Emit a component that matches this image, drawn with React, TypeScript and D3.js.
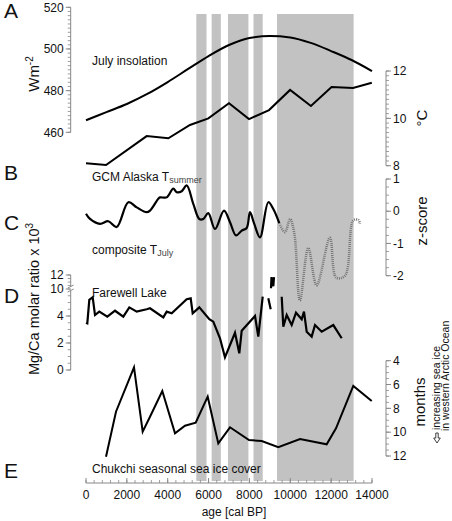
import React from 'react';
import * as d3 from 'd3';

// ---------- DATA ----------
const bandStart = [5400, 6150, 6950, 8200, 9350];
const bandEnd = [5900, 6600, 7950, 8650, 13100];

const insolAge = [0, 1000, 2000, 3000, 4000, 5000, 6000, 7000, 8000, 9000, 10000, 11000, 12000, 13000, 14000];
const insolVal = [465.8, 469.7, 473.6, 478.4, 484.1, 490.4, 496.6, 501.9, 505.3, 506.2, 505.5, 502.9, 499.0, 494.7, 489.4];

const gcmAge = [0, 980, 2970, 4030, 5090, 5990, 7000, 7980, 8960, 9990, 11010, 12020, 13070, 13990];
const gcmVal = [8.1, 8.03, 9.25, 9.16, 9.72, 10.0, 10.64, 9.97, 10.35, 11.2, 10.52, 11.32, 11.28, 11.5];

const compAge = [0, 196, 685, 1092, 1503, 2071, 2482, 2971, 3133, 3539, 3622, 3950, 4273, 4440, 4685, 4929, 5252, 5546, 5742, 5986, 6315, 6755, 7049, 7343, 7622, 7866, 8028, 8224, 8517, 8924, 9169, 9462];
const compVal = [-0.08, -0.24, -0.39, -0.31, -0.49, 0.28, 0.12, -0.03, 0.02, 0.39, 0.43, 0.43, 0.70, 0.59, 0.62, 0.80, 0.23, -0.24, -0.24, -0.06, -0.55, 0.02, -0.34, -0.75, -0.60, -0.52, -0.03, -0.37, -0.81, 0.28, 0.07, -0.37];

const compDotAge = [9462, 9740, 9990, 10200, 10470, 10880, 11290, 11940, 12250, 12680, 13080, 13330, 13410];
const compDotVal = [-0.37, -0.65, -0.24, -0.70, -2.77, -1.14, -2.3, -0.82, -2.06, -2.0, -0.29, -0.27, -0.39];

// null marks a gap in the record
const fareAge = [0, 64, 162, 328, 441, 651, 1043, 1420, 1826, 2120, 2482, 2971, 3133, 3784, 3950, 4195, 4929, 5125, 5223, 5546, 6036, 6231, 6559, 6803, 7293, 7504, 7622, 8273, 8434, 8650, 8780, 8924, 9041, 9048, 9056, 9080, 9169, 9203, 9400, 9580, 9658, 9824, 10069, 10280, 10559, 10671, 10803, 11048, 11210, 11538, 12105, 12517];
const fareVal: (number | null)[] = [3.5, 3.46, 5.19, 5.39, 4.07, 4.32, 3.95, 4.39, 3.95, 4.64, 4.32, 4.5, 4.57, 3.9, 4.32, 4.2, 5.24, 5.31, 4.2, 4.64, 3.76, 3.58, 2.35, 0.94, 2.76, 1.24, 2.91, 4.0, 2.47, 5.43, null, 5.31, 4.5, null, 10.1, 11.7, 10.4, 11.7, null, 5.43, 3.21, 4.07, 3.33, 4.24, 3.76, 4.32, 2.84, 2.47, 3.33, 2.84, 3.33, 2.35];

const iceAge = [979, 1468, 2350, 2775, 3133, 3735, 4357, 4846, 5370, 5957, 6476, 7049, 7979, 8601, 9413, 10475, 11782, 12238, 13084, 13985];
const iceVal = [12.06, 8.28, 4.55, 9.96, 8.7, 6.54, 10.1, 9.46, 9.21, 7.02, 10.94, 9.59, 10.66, 10.74, 11.27, 10.57, 11.02, 9.68, 6.12, 7.38];

const xTicks = [0, 2000, 4000, 6000, 8000, 10000, 12000, 14000];
const insolTicks = [460, 480, 500, 520];
const tempTicks = [8, 10, 12];
const zTicks = [-2, -1, 0, 1];
const mgTicksLow = [0, 2, 4];
const mgTicksHigh = [10, 12];
const iceTicks = [4, 6, 8, 10, 12];

// ---------- LAYOUT ----------
const W = 452, H = 521;
const FONT = 'Liberation Sans, Arial, Helvetica, sans-serif';
const AX = '#888';
const LX = 70.7, RX = 386;

const x = d3.scaleLinear().domain([0, 14000]).range([86, 372]);
const yIns = d3.scaleLinear().domain([460, 520]).range([132.3, 7.3]);
const yT = d3.scaleLinear().domain([8, 12]).range([165.7, 71]);
const yZ = d3.scaleLinear().domain([-2, 1]).range([275.7, 179]);
const yMgLow = d3.scaleLinear().domain([0, 6]).range([370, 289]);
const yMgHigh = d3.scaleLinear().domain([10, 12]).range([289, 275]);
const yMg = (v: number) => (v >= 10 ? yMgHigh(v) : yMgLow(v));
const yIce = d3.scaleLinear().domain([4, 12]).range([360.7, 456]);

const BAND_TOP = 14, BAND_BOT = 481;

function Axis({ side, scale, ticks, minor, y0, y1, fmt }: any) {
  const dir = side === 'left' ? -1 : 1;
  const xx = side === 'left' ? LX : RX;
  return (
    <g>
      <line x1={xx} x2={xx} y1={y0} y2={y1} stroke={AX} strokeWidth={1} />
      {minor.map((m: number, i: number) => (
        <line key={'m' + i} x1={xx} x2={xx + dir * 3} y1={scale(m)} y2={scale(m)} stroke={AX} strokeWidth={0.8} />
      ))}
      {ticks.map((t: number, i: number) => (
        <g key={'t' + i}>
          <line x1={xx} x2={xx + dir * 5} y1={scale(t)} y2={scale(t)} stroke={AX} strokeWidth={1} />
          <text x={xx + dir * 7} y={scale(t)} dy="0.35em" textAnchor={side === 'left' ? 'end' : 'start'} fontSize={12} fill="#111">
            {fmt ? fmt(t) : t}
          </text>
        </g>
      ))}
    </g>
  );
}

export default function App() {
  const insolPath = d3.line<number>().x((_, i) => x(insolAge[i])).y(v => yIns(v)).curve(d3.curveMonotoneX)(insolVal);
  const gcmPath = d3.line<number>().x((_, i) => x(gcmAge[i])).y(v => yT(v))(gcmVal);
  const compPath = d3.line<number>().x((_, i) => x(compAge[i])).y(v => yZ(v)).curve(d3.curveCatmullRom.alpha(0.5))(compVal);
  const compDotPath = d3.line<number>().x((_, i) => x(compDotAge[i])).y(v => yZ(v)).curve(d3.curveCatmullRom.alpha(0.5))(compDotVal);
  const farePath = d3.line<number | null>()
    .defined(v => v !== null)
    .x((_, i) => x(fareAge[i]))
    .y(v => yMg(v as number))(fareVal);
  const icePath = d3.line<number>().x((_, i) => x(iceAge[i])).y(v => yIce(v))(iceVal);

  const xMinor = d3.range(0, 14001, 400);

  return (
    <svg width={W} height={H} style={{ position: 'absolute', left: 0, top: 0, background: '#fff' }} fontFamily={FONT}>
      {/* grey bands */}
      {bandStart.map((b, i) => (
        <rect key={i} x={x(b)} y={BAND_TOP} width={x(bandEnd[i]) - x(b)} height={BAND_BOT - BAND_TOP} fill="#c2c2c2" />
      ))}

      {/* panel letters */}
      {[['A', 18], ['B', 180], ['C', 230], ['D', 303], ['E', 478]].map(([l, yy]) => (
        <text key={l as string} x={4} y={yy as number} fontSize={21} fill="#111">{l}</text>
      ))}

      {/* A: insolation axis (left) */}
      <Axis side="left" scale={yIns} ticks={insolTicks} minor={d3.range(460, 520.1, 2)} y0={yIns(460)} y1={yIns(520)} />
      <text transform={`translate(38.5,74) rotate(-90)`} textAnchor="middle" fontSize={15} fill="#111">
        Wm<tspan dy={-6} fontSize={10}>-2</tspan>
      </text>

      {/* B: temperature axis (right) */}
      <Axis side="right" scale={yT} ticks={tempTicks} minor={d3.range(8, 12.01, 0.2)} y0={yT(8)} y1={yT(12)} />
      <text transform={`translate(427,118) rotate(-90)`} textAnchor="middle" fontSize={15} fill="#111">°C</text>

      {/* C: z-score axis (right) */}
      <Axis side="right" scale={yZ} ticks={zTicks} minor={d3.range(-2, 1.01, 0.25)} y0={yZ(-2)} y1={yZ(1)} />
      <text transform={`translate(427,221) rotate(-90)`} textAnchor="middle" fontSize={15} fill="#111">z-score</text>

      {/* D: Mg/Ca axis (left, broken) */}
      <g>
        <line x1={LX} x2={LX} y1={yMgLow(0)} y2={291} stroke={AX} />
        <line x1={LX} x2={LX} y1={287} y2={yMgHigh(12)} stroke={AX} />
        <path d={`M${LX - 3},${292} L${LX + 3},${289} M${LX - 3},${288} L${LX + 3},${285}`} stroke={AX} fill="none" />
        {d3.range(0, 6.01, 0.5).map((m, i) => (
          <line key={'ml' + i} x1={LX} x2={LX - 3} y1={yMgLow(m)} y2={yMgLow(m)} stroke={AX} strokeWidth={0.8} />
        ))}
        {d3.range(10.5, 12.01, 0.5).map((m, i) => (
          <line key={'mh' + i} x1={LX} x2={LX - 3} y1={yMgHigh(m)} y2={yMgHigh(m)} stroke={AX} strokeWidth={0.8} />
        ))}
        {mgTicksLow.map(t => (
          <g key={'lt' + t}>
            <line x1={LX} x2={LX - 5} y1={yMgLow(t)} y2={yMgLow(t)} stroke={AX} />
            <text x={LX - 7} y={yMgLow(t)} dy="0.35em" textAnchor="end" fontSize={12} fill="#111">{t}</text>
          </g>
        ))}
        {mgTicksHigh.map(t => (
          <g key={'ht' + t}>
            <line x1={LX} x2={LX - 5} y1={yMgHigh(t)} y2={yMgHigh(t)} stroke={AX} />
            <text x={LX - 7} y={yMgHigh(t)} dy="0.35em" textAnchor="end" fontSize={12} fill="#111">{t}</text>
          </g>
        ))}
      </g>
      <text transform={`translate(38.5,299) rotate(-90)`} textAnchor="middle" fontSize={14.5} fill="#111">
        Mg/Ca molar ratio x 10<tspan dy={-6} fontSize={10}>3</tspan>
      </text>

      {/* E: months axis (right) */}
      <Axis side="right" scale={yIce} ticks={iceTicks} minor={d3.range(4, 12.01, 0.5)} y0={yIce(4)} y1={yIce(12)} />
      <text transform={`translate(425,402) rotate(-90)`} textAnchor="middle" fontSize={15} fill="#111">months</text>
      <text transform={`translate(440,430) rotate(-90)`} textAnchor="start" fontSize={10.5} fill="#111">increasing sea ice</text>
      <text transform={`translate(448.5,431) rotate(-90)`} textAnchor="start" fontSize={10.5} fill="#111">in western Arctic Ocean</text>
      <path d="M435.8,433 L438.2,433 L438.2,438 L440.3,438 L437,443 L433.7,438 L435.8,438 Z" fill="none" stroke="#111" strokeWidth={0.8} />

      {/* x axis */}
      <g>
        <line x1={x(0)} x2={x(14000)} y1={483} y2={483} stroke={AX} />
        {xMinor.map((m, i) => (
          <line key={'xm' + i} x1={x(m)} x2={x(m)} y1={483} y2={480} stroke={AX} strokeWidth={0.8} />
        ))}
        {xTicks.map(t => (
          <g key={'xt' + t}>
            <line x1={x(t)} x2={x(t)} y1={483} y2={478} stroke={AX} />
            <text x={x(t)} y={498.5} textAnchor="middle" fontSize={12} fill="#111">{t}</text>
          </g>
        ))}
        <text x={234} y={516} textAnchor="middle" fontSize={12} fill="#111">age [cal BP]</text>
      </g>

      {/* series labels */}
      <text x={92} y={65} fontSize={12} fill="#111">July insolation</text>
      <text x={92} y={181} fontSize={12} fill="#111">GCM Alaska T<tspan dy={2} fontSize={9} fill="#444">summer</tspan></text>
      <text x={92} y={254} fontSize={12} fill="#111">composite T<tspan dy={2} fontSize={9} fill="#444">July</tspan></text>
      <text x={92} y={297} fontSize={12} fill="#111">Farewell Lake</text>
      <text x={92} y={473} fontSize={12} fill="#111">Chukchi seasonal sea ice cover</text>

      {/* series lines */}
      <path d={insolPath || ''} fill="none" stroke="#000" strokeWidth={2} />
      <path d={gcmPath || ''} fill="none" stroke="#000" strokeWidth={2} strokeLinejoin="miter" />
      <path d={compDotPath || ''} fill="none" stroke="#777" strokeWidth={2.5} strokeDasharray="1 1" />
      <path d={compPath || ''} fill="none" stroke="#000" strokeWidth={2.2} />
      <path d={farePath || ''} fill="none" stroke="#000" strokeWidth={2.2} strokeLinejoin="miter" />
      <path d={icePath || ''} fill="none" stroke="#000" strokeWidth={2} />
    </svg>
  );
}
